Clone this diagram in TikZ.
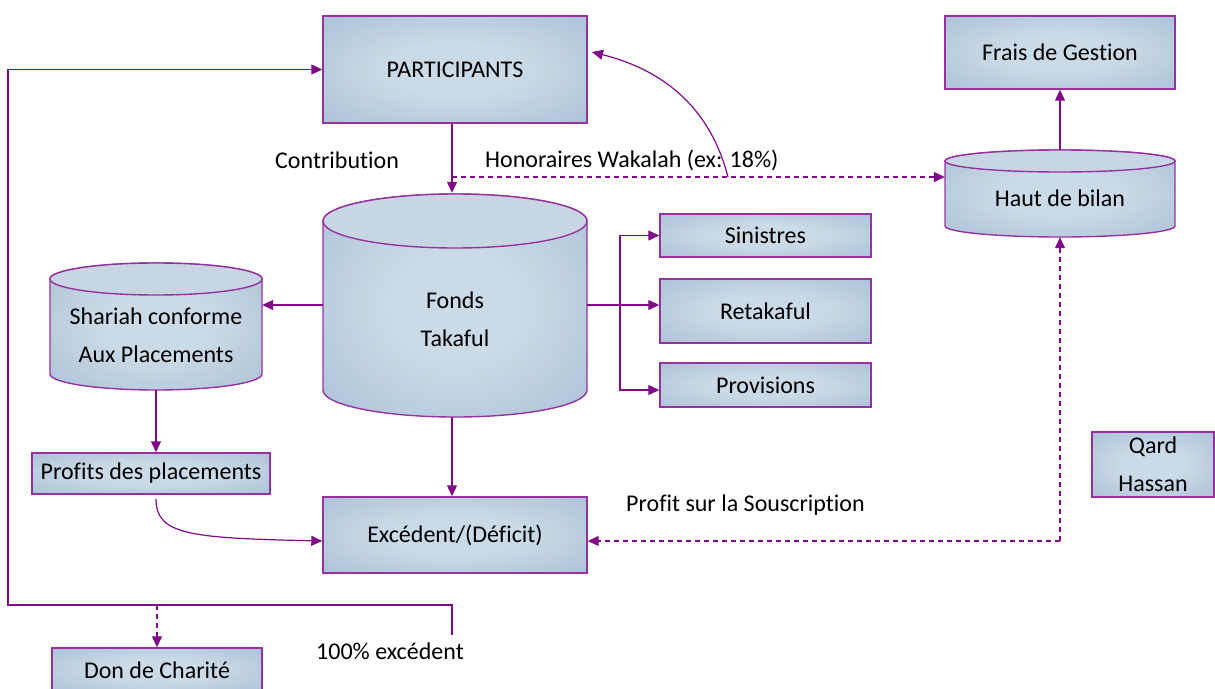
\documentclass[tikz,border=0pt]{standalone}
\usepackage{fontspec}
\setmainfont[Ligatures={NoCommon,NoContextual}]{Carlito}
\usetikzlibrary{arrows.meta,calc}

\definecolor{edgepurple}{RGB}{150,50,160}
\definecolor{flowpurple}{RGB}{128,10,135}
\definecolor{boxlight}{RGB}{203,218,231}
\definecolor{boxdark}{RGB}{154,180,206}
\definecolor{captop}{RGB}{200,214,228}

% soft glow: light centre fading to darker blue-grey edges
\pgfdeclareradialshading{boxglow}{\pgfpoint{0bp}{0bp}}{%
  color(0bp)=(boxlight); color(12bp)=(boxlight); color(50bp)=(boxdark); color(100bp)=(boxdark)}

\begin{document}
\begin{tikzpicture}[x=1pt,y=1pt,
  txt/.style={font=\fontsize{24}{38}\selectfont},
  panel/.style={rectangle, draw=edgepurple, line width=1.4pt, shade, shading=boxglow,
                inner sep=0pt, align=center, txt},
  hull/.style={draw=edgepurple, line width=1.4pt, shade, shading=boxglow},
  lid/.style={draw=edgepurple, line width=1.4pt, fill=captop},
  anchorbox/.style={rectangle, inner sep=0pt},
  plain/.style={draw=flowpurple, line width=1.2pt},
  flow/.style={plain, -{Triangle[length=11pt,width=10pt]}},
  dashflow/.style={flow, dash pattern=on 5pt off 4pt},
  lbl/.style={txt, inner sep=0pt, anchor=west}]

\useasboundingbox (0,0) rectangle (1215,-688);

% ---- rectangular boxes
\node[panel, minimum width=264, minimum height=107] (part) at (455,-69.5) {PARTICIPANTS};
\node[panel, minimum width=230, minimum height=73] (frais) at (1060,-52.5) {Frais de Gestion};
\node[panel, minimum width=211, minimum height=43] (sinis) at (765.5,-235.5) {Sinistres};
\node[panel, minimum width=211, minimum height=64] (retak) at (765.5,-311) {Retakaful};
\node[panel, minimum width=211, minimum height=44] (prov) at (765.5,-385) {Provisions};
\node[panel, minimum width=238, minimum height=41] (profits) at (151,-473.5) {Profits des placements};
\node[panel, minimum width=264, minimum height=76] (exc) at (455,-535) {Excédent/(Déficit)};
\node[panel, minimum width=122, minimum height=65] (qard) at (1153,-464.5) {Qard\\Hassan};
\node[panel, minimum width=210, minimum height=44] (don) at (157,-670) {Don de Charité};

% ---- cylinder: Fonds Takaful
\path[hull] (323,-221) -- (323,-390)
  arc[start angle=180, end angle=360, x radius=132pt, y radius=27pt]
  -- (587,-221)
  arc[start angle=0, end angle=180, x radius=132pt, y radius=27pt] -- cycle;
\path[lid] (455,-221) ellipse[x radius=132pt, y radius=27pt];
\node[anchorbox, minimum width=264, minimum height=224] (fonds) at (455,-305) {};
\node[txt, align=center, inner sep=0pt] (fondstxt) at (455,-319) {Fonds\\Takaful};

% ---- cylinder: Shariah conforme
\path[hull] (50,-279) -- (50,-374)
  arc[start angle=180, end angle=360, x radius=106pt, y radius=16pt]
  -- (262,-279)
  arc[start angle=0, end angle=180, x radius=106pt, y radius=16pt] -- cycle;
\path[lid] (156,-279) ellipse[x radius=106pt, y radius=16pt];
\node[anchorbox, minimum width=212, minimum height=127] (shariah) at (156,-326.5) {};
\node[txt, align=center, inner sep=0pt] (shariahtxt) at (156,-335) {Shariah conforme\\Aux Placements};

% ---- cylinder: Haut de bilan
\path[hull] (945,-161) -- (945,-226)
  arc[start angle=180, end angle=360, x radius=115pt, y radius=11pt]
  -- (1175,-161)
  arc[start angle=0, end angle=180, x radius=115pt, y radius=11pt] -- cycle;
\path[lid] (1060,-161) ellipse[x radius=115pt, y radius=11pt];
\node[anchorbox, minimum width=230, minimum height=87] (haut) at (1060,-193.5) {};
\node[txt, inner sep=0pt] (hauttxt) at (1060,-198) {Haut de bilan};

% ---- free labels
\node[lbl] (contrib) at (275,-160) {Contribution};
\node[lbl] (honor) at (485,-160) {Honoraires Wakalah (ex: 18\%)};
\node[lbl] (souscr) at (626,-505) {Profit sur la Souscription};
\node[lbl] (cent) at (316,-651) {100\% excédent};

% ---- connector points
\coordinate (w) at (452,-177);
\coordinate (c0) at (728,-177);
\coordinate (pe) at (592,-52);
\coordinate (br) at (620,-305);
\coordinate (ps) at (156,-499);
\coordinate (sc) at (1060,-541);
\coordinate (f0) at (452,-635);
\coordinate (f1) at (452,-605);
\coordinate (f2) at (8,-605);
\coordinate (d0) at (157,-605);

% ---- connectors
\draw[flow] ([xshift=-3pt]part.south) -- ([xshift=-3pt]fonds.north);
\draw[dashflow] (w) -- (haut.west |- w);
\draw[flow] (c0) .. controls (708,-100) and (655,-68) .. (pe);
\draw[flow] (haut.north) -- (frais.south);
\draw[flow] (fonds.west) -- (shariah.east |- fonds.west);
\draw[plain] (fonds.east) -- (br);
\draw[flow] (br) |- (sinis.west);
\draw[flow] (br) -- (retak.west |- br);
\draw[flow] (br) |- ([yshift=-5pt]prov.west);
\draw[flow] (shariah.south) -- (shariah.south |- profits.north);
\draw[flow] (ps) .. controls (156,-535) and (190,-538) .. ([yshift=-6pt]exc.west);
\draw[flow] ([xshift=-3pt]fonds.south) -- ([xshift=-3pt]exc.north);
\draw[dashflow] (sc) -- ([yshift=-6pt]exc.east);
\draw[dashflow] (sc) -- (haut.south);
\draw[flow] (f0) -- (f1) -- (f2) |- (part.west);
\draw[dashflow] (d0) -- (don.north);

\end{tikzpicture}
\end{document}
